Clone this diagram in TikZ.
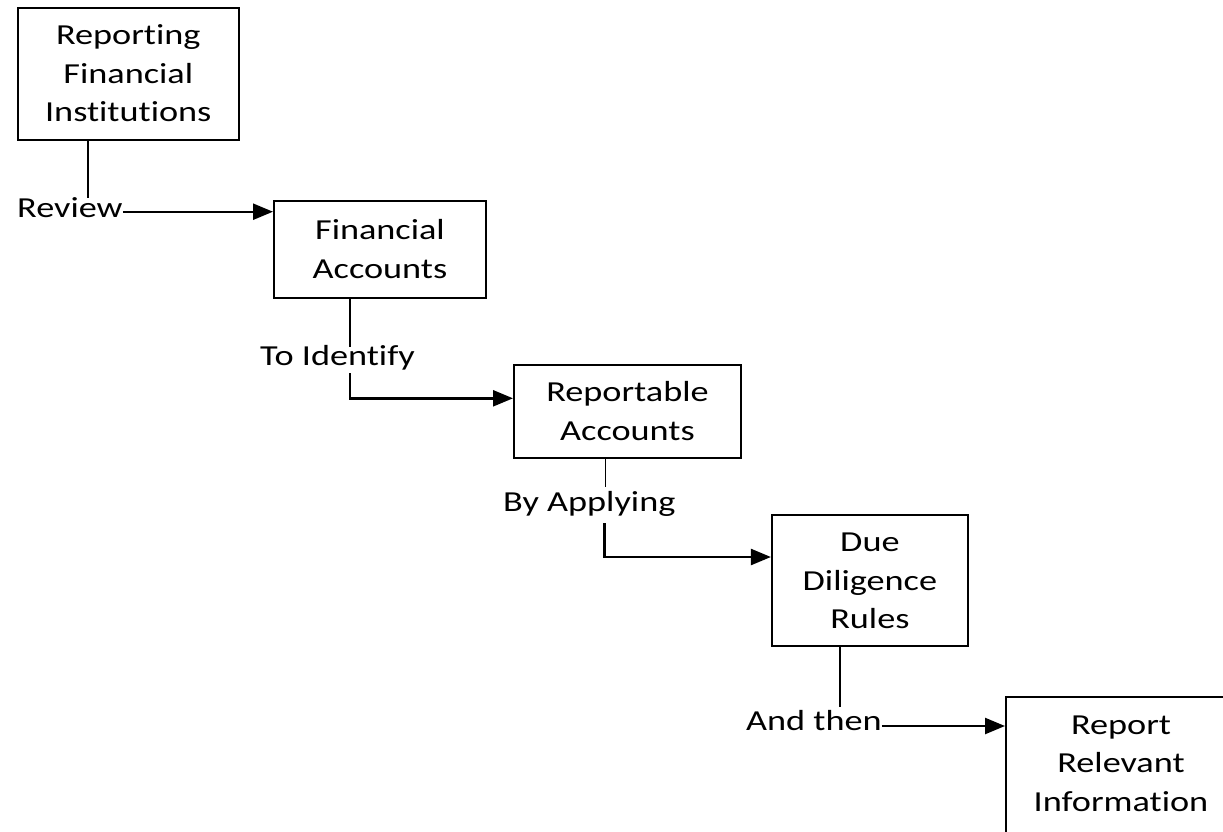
\documentclass[tikz,border=0pt]{standalone}
\usepackage{fontspec}
\setmainfont{Carlito}[FakeStretch=1.25, Ligatures=NoCommon]
\usetikzlibrary{arrows.meta}
\newcommand\tpad{\rule{0pt}{31pt}}
\begin{document}
\begin{tikzpicture}[x=1pt,y=-1pt,
  box/.style={draw, line width=2pt, inner sep=0pt, font=\fontsize{29}{38.5}\selectfont},
  lbl/.style={inner sep=0pt, font=\fontsize{29}{38.5}\selectfont, anchor=base west},
  conn/.style={line width=1.3pt},
  arr/.style={line width=2.4pt, -{Triangle[length=20pt,width=16pt]}}]
\useasboundingbox (0,0) rectangle (1223,831);

% boxes
\node[box, minimum width=221pt, minimum height=132pt] (b1) at (128.3,73.7)
  {\begin{tabular}{@{}c@{}}\tpad Reporting\\Financial\\Institutions\end{tabular}};
\node[box, minimum width=212pt, minimum height=97pt] (b2) at (380,249.5)
  {\begin{tabular}{@{}c@{}}\tpad Financial\\Accounts\end{tabular}};
\node[box, minimum width=227pt, minimum height=93pt] (b3) at (627.5,411.5)
  {\begin{tabular}{@{}c@{}}\tpad Reportable\\Accounts\end{tabular}};
\node[box, minimum width=196pt, minimum height=131pt] (b4) at (869.9,580.4)
  {\begin{tabular}{@{}c@{}}\tpad Due\\Diligence\\Rules\end{tabular}};
\node[box, minimum width=230pt, minimum height=150pt, anchor=north west] (b5) at (1005,696)
  {\begin{tabular}{@{}c@{}}Report\\Relevant\\Information\rule[-25pt]{0pt}{0pt}\end{tabular}};

% labels
\node[lbl] (l1) at (17,217.3) {Review};
\node[lbl] (l2) at (260,365) {To Identify};
\node[lbl] (l3) at (503,511.7) {By Applying};
\node[lbl] (l4) at (746,730.7) {And then};

% helper coordinates
\coordinate (v1) at (88,198);
\coordinate (v2a) at (350,347);
\coordinate (v2b) at (350,373);
\coordinate (v3a) at (605.5,487);
\coordinate (v3b) at (604.5,523);
\coordinate (v4) at (840,707);
\coordinate (h1) at (0,211.7);
\coordinate (h2) at (0,398.3);
\coordinate (h3) at (0,557);
\coordinate (h4) at (0,726);

% connectors
\draw[conn] (b1.south -| v1) -- (v1);
\draw[arr] (l1.east |- h1) -- (b2.west |- h1);

\draw[conn] (b2.south -| v2a) -- (v2a);
\draw[arr] (v2b) |- (b3.west |- h2);

\draw[conn] (b3.south -| v3a) -- (v3a);
\draw[arr] (v3b) |- (b4.west |- h3);

\draw[conn] (b4.south -| v4) -- (v4);
\draw[arr] (l4.east |- h4) -- (b5.west |- h4);
\end{tikzpicture}
\end{document}
